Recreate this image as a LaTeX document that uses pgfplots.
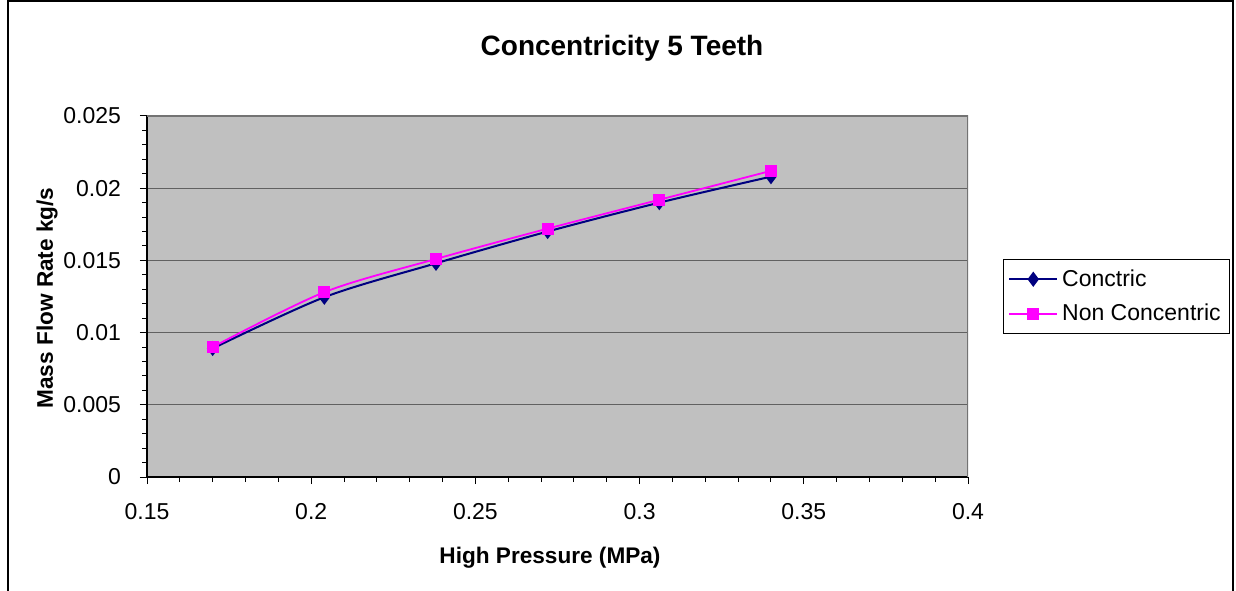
\documentclass[border=0pt]{standalone}
\usepackage{fontspec}
\setmainfont{Liberation Sans}
\usepackage{pgfplots}
\pgfplotsset{compat=1.18}
\definecolor{plotgray}{HTML}{C0C0C0}
\definecolor{navyline}{HTML}{000080}
\definecolor{magline}{HTML}{FF00FF}
\begin{document}
\begin{tikzpicture}
\useasboundingbox (0pt,0pt) rectangle (618pt,295pt);
\draw[line width=0.8pt] (4pt,-2pt) -- (4pt,294.6pt) -- (616.6pt,294.6pt) -- (616.6pt,-2pt);
\node[font=\fontsize{14}{16}\selectfont\bfseries] at (311pt,271pt) {Concentricity 5 Teeth};
\node[font=\fontsize{11.3}{13}\selectfont\bfseries] at (275pt,16pt) {High Pressure (MPa)};
\node[font=\fontsize{11.3}{13}\selectfont\bfseries, rotate=90] at (23.5pt,146pt) {Mass Flow Rate kg/s};
\begin{axis}[
  at={(73.5pt,56.5pt)}, anchor=south west,
  scale only axis, width=410.5pt, height=180.5pt,
  xmin=0.15, xmax=0.4, ymin=0, ymax=0.025,
  scaled x ticks=false, scaled y ticks=false,
  xtick={0.15,0.2,0.25,0.3,0.35,0.4},
  xticklabels={0.15,0.2,0.25,0.3,0.35,0.4},
  ytick={0,0.005,0.01,0.015,0.02,0.025},
  yticklabels={0,0.005,0.01,0.015,0.02,0.025},
  minor x tick num=4, minor y tick num=4,
  axis x line*=bottom, axis y line*=left,
  axis line style={black, line width=0.6pt},
  tick align=outside,
  major tick length=3.5pt, minor tick length=2.5pt,
  tick style={black, line width=0.5pt},
  ymajorgrids, grid style={black!62, line width=0.6pt},
  axis background/.style={fill=plotgray},
  tick label style={font=\fontsize{11.5}{13}\selectfont},
  xticklabel style={yshift=-6pt},
  yticklabel style={xshift=-6pt},
  legend style={at={(1.0426,0.6039)}, anchor=north west, draw=black, fill=white,
    font=\fontsize{11.5}{13}\selectfont, row sep=3.5pt, inner xsep=2.5pt, inner ysep=3pt},
  legend cell align=left,
  legend image code/.code={\draw[mark repeat=2,mark phase=2] plot coordinates {(0cm,0cm) (0.42cm,0cm) (0.84cm,0cm)};},
]
\addplot[navyline, line width=1pt, smooth, mark=diamond*, mark size=3pt, mark options={solid, fill=navyline}]
  coordinates {(0.17,0.0089) (0.204,0.01245) (0.238,0.0148) (0.272,0.0170) (0.306,0.0190) (0.34,0.0208)};
\addlegendentry{Conctric}
\addplot[magline, line width=0.9pt, smooth, mark=square*, mark size=2.5pt, mark options={solid, fill=magline}]
  coordinates {(0.17,0.0090) (0.204,0.0128) (0.238,0.0151) (0.272,0.0172) (0.306,0.0192) (0.34,0.0212)};
\addlegendentry{Non Concentric}
\draw[black!55, line width=0.6pt] (rel axis cs:0,1) -- (rel axis cs:1,1) -- (rel axis cs:1,0);
\end{axis}
\end{tikzpicture}
\end{document}
